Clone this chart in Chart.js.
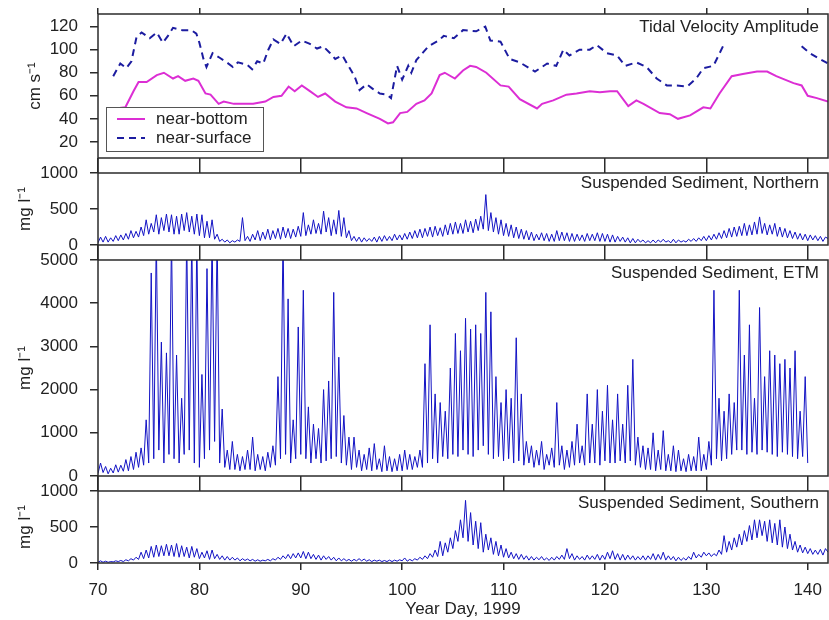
<!DOCTYPE html>
<html>
<head>
<meta charset="utf-8">
<script src="https://cdn.jsdelivr.net/npm/chart.js@4.4.0/dist/chart.umd.min.js"></script>
<style>
  html, body { margin: 0; padding: 0; background: #fff; }
  #fig { position: relative; width: 829px; height: 620px; overflow: hidden; background: #fff; }
  #fig canvas { position: absolute; left: 0; }
</style>
</head>
<body>
<div id="fig">
  <canvas id="c1" width="829" height="172" style="top:0px"></canvas>
  <canvas id="c2" width="829" height="102" style="top:158px"></canvas>
  <canvas id="c3" width="829" height="246" style="top:245px"></canvas>
  <canvas id="c4" width="829" height="144" style="top:476px"></canvas>
</div>
<script>
// ---- data ----
const dayTicks = [70, 80, 90, 100, 110, 120, 130, 140];

// tidal velocity amplitude, cm/s
const bottomDays = [71.7, 72.7, 73.5, 74.0, 74.8, 75.8, 76.5, 77.4, 77.9, 78.6,
  79.4, 79.9, 80.6, 81.1, 81.9, 82.4, 83.4, 85.3, 86.5, 87.3,
  88.1, 88.8, 89.4, 90.1, 90.9, 91.7, 92.4, 93.4, 94.5, 95.5,
  96.5, 97.8, 98.6, 99.1, 99.8, 100.5, 101.4, 102.2, 102.9, 103.7,
  104.2, 105.2, 106.0, 106.7, 107.3, 108.3, 109.7, 110.5, 111.6, 113.3,
  113.8, 114.9, 116.2, 117.2, 118.5, 119.5, 120.5, 121.2, 122.3, 123.1,
  123.8, 125.4, 126.4, 127.2, 128.4, 129.7, 130.4, 131.3, 132.5, 133.6,
  135.0, 136.0, 136.9, 138.6, 139.4, 140.0, 140.9, 142.0];
const bottomVel = [49, 50, 64, 72, 72, 78, 80, 75, 77, 73,
  75, 73, 62, 61, 53, 55, 53, 53, 55, 59,
  60, 68, 64, 69, 64, 59, 62, 55, 50, 49,
  45, 40, 36, 37, 45, 46, 53, 56, 62, 78,
  80, 75, 82, 86, 85, 80, 69, 68, 57, 49,
  53, 56, 61, 62, 64, 63, 64, 64, 51, 56,
  53, 45, 44, 40, 43, 50, 49, 62, 77, 79,
  81, 81, 77, 71, 69, 60, 58, 55];

const surfaceDays = [71.5, 72.2, 72.8, 73.3, 73.8, 74.3, 75.1, 75.8, 76.4, 76.9,
  77.4, 78.3, 79.2, 79.7, 80.0, 80.4, 80.7, 81.3, 82.0, 82.7,
  83.3, 83.8, 84.7, 85.2, 85.7, 86.3, 86.8, 87.3, 88.0, 88.6,
  89.3, 90.1, 90.9, 91.6, 92.2, 92.9, 93.4, 94.1, 94.7, 95.3,
  95.8, 96.5, 97.1, 97.8, 98.5, 98.9, 99.5, 100.0, 100.6, 100.9,
  101.4, 102.6, 103.6, 104.1, 105.1, 106.0, 107.3, 108.2, 108.7, 109.7,
  110.6, 111.6, 113.1, 114.3, 115.2, 115.9, 116.5, 117.5, 118.5, 119.2,
  120.2, 121.2, 122.0, 123.1, 124.1, 125.1, 126.1, 127.1, 128.1, 129.0,
  129.7, 130.7, 131.7, 135.0, 139.4, 140.2, 141.2, 142.0];
const surfaceVel = [77, 88, 84, 90, 111, 115, 110, 115, 106, 112,
  119, 117, 117, 114, 106, 92, 85, 97, 93, 89,
  85, 89, 87, 83, 90, 88, 100, 109, 105, 114,
  103, 108, 105, 101, 103, 97, 92, 95, 86, 77,
  65, 70, 66, 62, 61, 58, 86, 74, 86, 80,
  91, 103, 108, 112, 110, 117, 116, 120, 108, 107,
  92, 89, 81, 88, 86, 100, 95, 100, 100, 104,
  97, 95, 86, 89, 85, 75, 69, 69, 68, 75,
  84, 86, 104, null, 103, 97, 92, 88];

// suspended sediment, mg/l, one value every 0.25 day from day 70
const sedStart = 70;
const sedStep = 0.25;

const northern = [
  30, 110, 40, 120,   // 70
  40, 100, 50, 130,
  60, 140, 70, 160,
  80, 200, 100, 190,
  110, 250, 130, 350,
  150, 300, 180, 420, // 75
  150, 380, 200, 430,
  180, 420, 150, 400,
  150, 430, 200, 450,
  180, 400, 150, 430,
  130, 420, 100, 330, // 80
  100, 350, 80, 150,
  50, 80, 40, 70,
  30, 60, 40, 70,
  50, 380, 60, 120,
  50, 150, 70, 200,   // 85
  60, 180, 80, 220,
  70, 200, 90, 230,
  80, 250, 100, 230,
  90, 220, 110, 260,
  120, 450, 130, 280, // 90
  150, 350, 160, 300,
  150, 470, 180, 380,
  130, 350, 150, 480,
  120, 380, 100, 200,
  60, 120, 50, 110,   // 95
  40, 100, 50, 90,
  50, 110, 40, 120,
  50, 130, 60, 120,
  60, 150, 70, 140,
  70, 160, 80, 180,   // 100
  90, 200, 100, 220,
  100, 230, 120, 250,
  110, 260, 130, 240,
  120, 280, 140, 300,
  150, 320, 160, 300, // 105
  160, 350, 180, 330,
  170, 360, 200, 400,
  220, 700, 200, 450,
  180, 380, 150, 350,
  130, 300, 120, 280, // 110
  100, 250, 90, 220,
  80, 200, 70, 180,
  60, 150, 70, 170,
  60, 160, 50, 150,
  50, 200, 60, 180,   // 115
  60, 170, 50, 160,
  50, 150, 60, 140,
  50, 160, 60, 150,
  60, 170, 50, 160,
  50, 150, 40, 140,   // 120
  40, 120, 50, 110,
  40, 100, 30, 90,
  30, 80, 40, 70,
  30, 60, 30, 70,
  30, 70, 40, 80,     // 125
  40, 60, 30, 80,
  30, 70, 40, 60,
  40, 80, 50, 90,
  50, 100, 60, 120,
  60, 130, 70, 150,   // 130
  80, 170, 90, 200,
  100, 230, 110, 250,
  120, 260, 130, 300,
  130, 280, 140, 320,
  150, 390, 160, 300, // 135
  140, 280, 150, 300,
  120, 250, 110, 230,
  100, 200, 90, 180,
  80, 160, 70, 150,
  60, 140, 70, 130,   // 140
  60, 120, 50, 110, 90
];

const etm = [
  60, 300, 80, 220,     // 70
  50, 180, 70, 260,
  90, 250, 110, 380,
  120, 450, 150, 550,
  200, 650, 250, 1300,
  300, 4700, 400, 5600, // 75
  600, 3100, 300, 2850,
  500, 5600, 400, 2800,
  300, 1800, 500, 5600,
  600, 5600, 300, 5600,
  200, 2350, 400, 4800, // 80
  600, 5600, 800, 5600,
  300, 1550, 200, 600,
  150, 800, 150, 500,
  120, 450, 150, 600,
  150, 900, 120, 500,   // 85
  150, 450, 120, 550,
  200, 700, 250, 2300,
  400, 5600, 500, 4100,
  300, 1300, 400, 3450,
  500, 4300, 400, 1600, // 90
  300, 1200, 400, 1100,
  300, 2000, 350, 2200,
  400, 4250, 450, 2750,
  300, 1400, 250, 900,
  150, 900, 200, 600,   // 95
  120, 500, 150, 650,
  120, 750, 150, 400,
  100, 700, 120, 450,
  100, 400, 120, 500,
  120, 600, 150, 500,   // 100
  150, 450, 200, 600,
  200, 2600, 300, 3500,
  400, 1900, 300, 1700,
  450, 1500, 400, 2500,
  500, 3300, 450, 2900, // 105
  600, 3650, 500, 3400,
  450, 3500, 600, 3300,
  700, 4250, 500, 3800,
  400, 2300, 450, 1700,
  350, 2000, 400, 1800, // 110
  300, 3200, 350, 1900,
  250, 800, 300, 700,
  200, 600, 250, 800,
  150, 500, 250, 650,
  200, 1700, 250, 700,  // 115
  150, 600, 200, 800,
  250, 1200, 300, 700,
  250, 1900, 300, 1200,
  300, 2000, 250, 1500,
  350, 2100, 300, 1300, // 120
  300, 1900, 350, 1200,
  300, 2100, 350, 2700,
  250, 900, 200, 700,
  150, 650, 150, 1000,
  120, 600, 150, 1050,  // 125
  120, 500, 120, 700,
  100, 600, 120, 400,
  100, 500, 120, 450,
  120, 900, 120, 500,
  150, 800, 250, 4300,  // 130
  400, 1800, 350, 1500,
  400, 1900, 500, 1700,
  600, 4300, 600, 2800,
  500, 3500, 550, 1800,
  500, 3900, 600, 2300, // 135
  550, 2900, 500, 2800,
  450, 2600, 550, 2700,
  500, 2500, 450, 2900,
  400, 1500, 450, 2300,
  300                   // 140
];

const southern = [
  10, 30, 10, 25,     // 70
  10, 20, 15, 30,
  20, 35, 20, 45,
  30, 60, 40, 80,
  50, 150, 60, 180,
  70, 230, 80, 250,   // 75
  90, 240, 100, 260,
  100, 250, 90, 270,
  80, 240, 90, 220,
  70, 230, 80, 200,
  60, 150, 70, 170,   // 80
  50, 180, 60, 120,
  50, 100, 40, 90,
  40, 80, 40, 70,
  30, 60, 35, 55,
  30, 50, 25, 45,     // 85
  25, 40, 30, 50,
  30, 60, 40, 80,
  50, 100, 60, 120,
  60, 130, 70, 140,
  70, 160, 60, 150,   // 90
  60, 120, 50, 110,
  40, 100, 50, 90,
  40, 80, 30, 70,
  30, 60, 30, 50,
  25, 50, 30, 60,     // 95
  30, 55, 25, 45,
  20, 40, 25, 40,
  20, 35, 20, 40,
  20, 40, 25, 45,
  30, 70, 25, 50,     // 100
  30, 60, 40, 80,
  50, 100, 60, 130,
  80, 180, 90, 300,
  100, 280, 150, 350,
  200, 450, 300, 600, // 105
  350, 870, 300, 700,
  250, 580, 200, 560,
  150, 400, 180, 350,
  120, 300, 100, 250,
  80, 200, 70, 150,   // 110
  60, 130, 50, 120,
  50, 100, 40, 90,
  40, 80, 45, 90,
  40, 70, 35, 80,
  40, 90, 50, 110,    // 115
  50, 200, 60, 130,
  40, 100, 50, 90,
  40, 110, 50, 100,
  50, 120, 40, 110,
  50, 150, 60, 170,   // 120
  50, 130, 40, 120,
  40, 110, 50, 100,
  40, 90, 45, 100,
  40, 100, 50, 130,
  40, 120, 50, 150,   // 125
  40, 100, 45, 90,
  30, 80, 35, 70,
  40, 90, 50, 150,
  70, 120, 80, 150,
  100, 140, 90, 130,  // 130
  100, 180, 120, 380,
  150, 300, 180, 350,
  220, 400, 250, 450,
  300, 520, 320, 600,
  350, 600, 380, 580, // 135
  300, 600, 280, 550,
  250, 600, 220, 500,
  200, 400, 180, 300,
  150, 250, 140, 220,
  130, 200, 120, 180, // 140
  120, 190, 110, 200, 150
];

// ---- helpers ----
const axisColor = '#2b2b2b';
const textColor = '#222';
const fontFamily = '"Liberation Sans", Arial, sans-serif';
const font17 = { family: fontFamily, size: 17 };

function pairs(xs, ys) {
  return xs.map((x, i) => ({ x: x, y: ys[i] }));
}

function series(vals) {
  return vals.map((v, i) => ({ x: sedStart + i * sedStep, y: v }));
}

// frame round the plot area, panel label, continuous left spine
const framePlugin = {
  id: 'frame',
  afterDraw(chart, args, opts) {
    const { ctx, chartArea: a } = chart;
    ctx.save();
    ctx.strokeStyle = axisColor;
    ctx.lineWidth = 1.5;
    ctx.strokeRect(a.left, a.top, a.right - a.left, a.bottom - a.top);
    if (opts.spineUp) {
      ctx.beginPath();
      ctx.moveTo(a.left, 0);
      ctx.lineTo(a.left, a.top);
      ctx.stroke();
    }
    if (opts.label) {
      ctx.fillStyle = textColor;
      ctx.font = '17px ' + fontFamily;
      ctx.textAlign = 'right';
      ctx.textBaseline = 'middle';
      ctx.fillText(opts.label, a.right - 9, a.top + opts.labelDy);
    }
    ctx.restore();
  }
};

// boxed legend in the lower left of the top panel
const boxLegendPlugin = {
  id: 'boxLegend',
  afterDatasetsDraw(chart, args, opts) {
    if (!opts.show) return;
    const { ctx, chartArea: a } = chart;
    const x0 = a.left + 8, y0 = a.top + 93, w = 157, h = 44;
    ctx.save();
    ctx.fillStyle = '#fff';
    ctx.fillRect(x0, y0, w, h);
    ctx.strokeStyle = '#555';
    ctx.lineWidth = 1;
    ctx.strokeRect(x0 + 0.5, y0 + 0.5, w, h);
    chart.data.datasets.forEach((ds, i) => {
      const yy = y0 + 12 + i * 19;
      ctx.strokeStyle = ds.borderColor;
      ctx.lineWidth = ds.borderWidth;
      ctx.setLineDash(ds.borderDash || []);
      ctx.beginPath();
      ctx.moveTo(x0 + 11, yy);
      ctx.lineTo(x0 + 39, yy);
      ctx.stroke();
      ctx.setLineDash([]);
      ctx.fillStyle = textColor;
      ctx.font = '17px ' + fontFamily;
      ctx.textAlign = 'left';
      ctx.textBaseline = 'middle';
      ctx.fillText(ds.label, x0 + 50, yy);
    });
    ctx.restore();
  }
};

function makeChart(id, datasets, cfg) {
  const setTicks = list => scale => { scale.ticks = list.map(v => ({ value: v })); };
  const gridBase = { drawOnChartArea: false, color: axisColor, lineWidth: 1.5 };

  return new Chart(document.getElementById(id), {
    type: 'line',
    data: { datasets: datasets },
    options: {
      responsive: false,
      animation: false,
      devicePixelRatio: 1,
      layout: { padding: { top: cfg.padTop, right: 1, bottom: cfg.padBottom, left: 0 } },
      elements: { point: { radius: 0 }, line: { tension: 0 } },
      plugins: {
        legend: { display: false },
        tooltip: { enabled: false },
        frame: { spineUp: cfg.spineUp, label: cfg.label, labelDy: cfg.labelDy },
        boxLegend: { show: !!cfg.legend }
      },
      scales: {
        x: {
          type: 'linear', position: 'bottom', min: 70, max: 142,
          display: !!cfg.showX,
          afterBuildTicks: setTicks(dayTicks),
          afterFit: s => {
            if (cfg.showX) s.height = 57;
            s.paddingLeft = 0;
            s.paddingRight = 0;
          },
          grid: Object.assign({ tickLength: 7 }, gridBase),
          border: { display: false },
          ticks: { font: font17, color: textColor, padding: 10, maxRotation: 0, callback: v => String(v) },
          title: { display: true, text: 'Year Day, 1999', font: font17, color: textColor, padding: { top: 0, bottom: 0 } }
        },
        xTop: {
          type: 'linear', axis: 'x', position: 'top', min: 70, max: 142,
          afterBuildTicks: setTicks(dayTicks),
          afterFit: s => { s.height = cfg.topTick; },
          grid: Object.assign({ tickLength: cfg.topTick }, gridBase),
          border: { display: false },
          ticks: { display: false }
        },
        y: {
          type: 'linear', position: 'left', min: cfg.yMin, max: cfg.yMax,
          afterBuildTicks: setTicks(cfg.yTicks),
          afterFit: s => {
            s.width = 98;
            s.paddingTop = 0;
            s.paddingBottom = 0;
          },
          grid: Object.assign({ tickLength: 8 }, gridBase),
          border: { display: false },
          ticks: { font: font17, color: textColor, padding: 12, callback: v => String(v) },
          title: { display: true, text: cfg.yTitle, font: font17, color: textColor, padding: { top: cfg.yTitlePad, bottom: 0 } }
        }
      }
    },
    plugins: [framePlugin, boxLegendPlugin]
  });
}

const sedLine = vals => ({
  data: series(vals),
  borderColor: '#1212c4',
  borderWidth: 1,
  pointRadius: 0
});

// ---- panels ----
makeChart('c1', [
  { label: 'near-bottom', data: pairs(bottomDays, bottomVel), borderColor: '#dc2ed4', borderWidth: 2 },
  { label: 'near-surface', data: pairs(surfaceDays, surfaceVel), borderColor: '#1c1ca0', borderWidth: 2,
    borderDash: [7, 5], spanGaps: false }
], {
  padTop: 8, padBottom: 14, topTick: 6, spineUp: false,
  label: 'Tidal Velocity Amplitude', labelDy: 13, legend: true,
  yMin: 6, yMax: 131, yTicks: [20, 40, 60, 80, 100, 120], yTitle: 'cm s\u207B\u00B9', yTitlePad: 25
});

makeChart('c2', [sedLine(northern)], {
  padTop: 0, padBottom: 15, topTick: 15, spineUp: true,
  label: 'Suspended Sediment, Northern', labelDy: 10,
  yMin: 0, yMax: 1000, yTicks: [0, 500, 1000], yTitle: 'mg l\u207B\u00B9', yTitlePad: 15
});

makeChart('c3', [sedLine(etm)], {
  padTop: 0, padBottom: 15, topTick: 15, spineUp: true,
  label: 'Suspended Sediment, ETM', labelDy: 13,
  yMin: 0, yMax: 5000, yTicks: [0, 1000, 2000, 3000, 4000, 5000], yTitle: 'mg l\u207B\u00B9', yTitlePad: 15
});

makeChart('c4', [sedLine(southern)], {
  padTop: 0, padBottom: 0, topTick: 15, spineUp: true, showX: true,
  label: 'Suspended Sediment, Southern', labelDy: 12,
  yMin: 0, yMax: 1000, yTicks: [0, 500, 1000], yTitle: 'mg l\u207B\u00B9', yTitlePad: 15
});
</script>
</body>
</html>
